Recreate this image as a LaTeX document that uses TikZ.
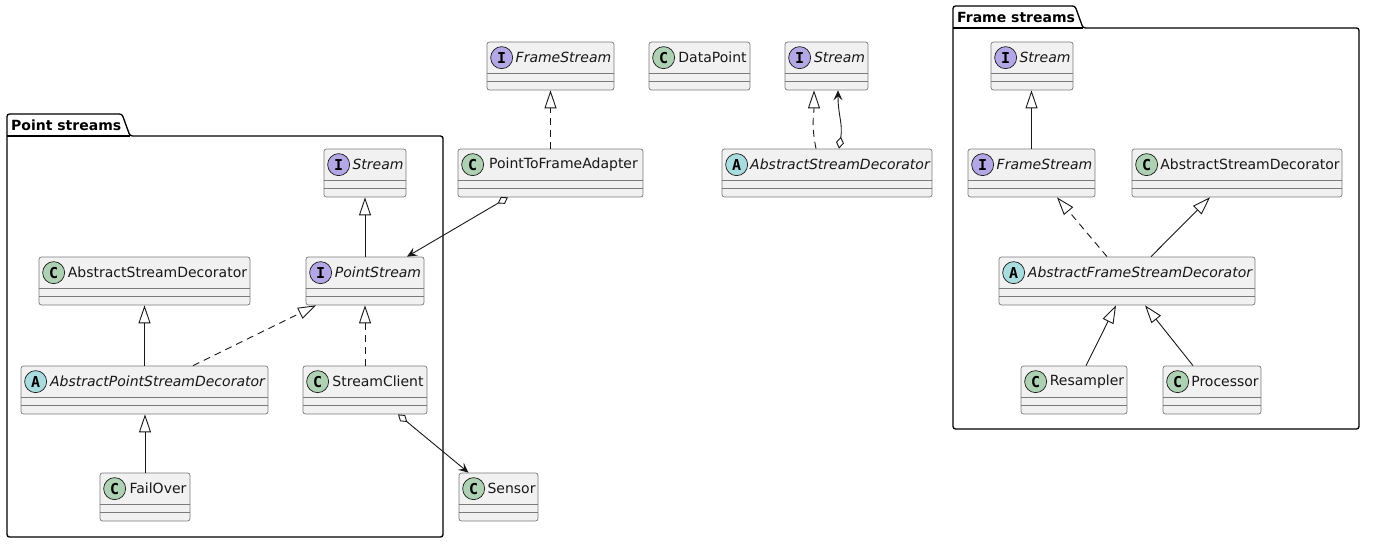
\documentclass[tikz,border=0pt]{standalone}
\usepackage{fontspec}
\setmainfont{DejaVu Sans}
\newfontfamily\spotfont{DejaVu Sans Mono}
\usetikzlibrary{arrows.meta,calc}
\definecolor{boxfill}{HTML}{F1F1F1}
\definecolor{linec}{HTML}{181818}
\definecolor{boxline}{HTML}{7A7A7A}
\definecolor{spotC}{HTML}{ADD1B2}
\definecolor{spotI}{HTML}{B4A7E5}
\definecolor{spotA}{HTML}{A9DCDF}
\tikzset{
  clsbox/.style={draw=boxline, line width=0.7pt, fill=boxfill, rounded corners=2.5pt, inner sep=0pt, minimum height=48pt},
  sepline/.style={draw=boxline, line width=0.7pt},
  spot/.style={circle, draw=linec, line width=0.7pt, minimum size=22pt, inner sep=0pt, font=\spotfont\bfseries\fontsize{15}{15}\selectfont},
  cname/.style={inner sep=0pt, font=\fontsize{14}{16}\selectfont, text=linec},
  pkg/.style={draw=black, line width=1.3pt, rounded corners=2.5pt},
  pkglabel/.style={anchor=west, inner sep=0pt, font=\bfseries\fontsize{14}{16}\selectfont},
  edge/.style={draw=linec, line width=0.9pt},
  dsh/.style={edge, dash pattern=on 7pt off 5pt},
  ext/.style={-{Triangle[open, length=18pt, width=12pt, fill=white]}},
  hasa/.style={{Diamond[open, length=12pt, width=8pt, fill=white]}-{Stealth[length=10pt, width=9pt, inset=4pt]}},
}
% #1 id, #2 letter, #3 spot colour, #4 font switch, #5 name, #6 left, #7 top, #8 width
\newcommand\umlcls[8]{%
  \node[clsbox, minimum width=#8pt] (#1) at (#6+#8/2, #7+24) {};
  \draw[sepline] ([yshift=-32pt]#1.north west) -- ([yshift=-32pt]#1.north east);
  \draw[sepline] ([yshift=-40pt]#1.north west) -- ([yshift=-40pt]#1.north east);
  \node[spot, fill=#3] (#1-s) at ([xshift=15pt, yshift=-16pt]#1.north west) {#2};
  \coordinate (#1-a) at ([xshift=29pt, yshift=-16pt]#1.north west);
  \coordinate (#1-b) at ([xshift=-3pt, yshift=-16pt]#1.north east);
  \node[cname] (#1-n) at ($(#1-a)!0.5!(#1-b)$) {#4#5};
}
\begin{document}
\begin{tikzpicture}[x=1pt, y=-1pt]
\useasboundingbox (0,0) rectangle (1373,551);

% packages
\draw[pkg] (7,114) -- (122,114) -- (130,136) -- (443,136) -- (443,537) -- (7,537) -- cycle;
\draw[pkg] (7,136) -- (130,136);
\node[pkglabel] (pkgpoint) at (11,125) {Point streams};

\draw[pkg] (953,6) -- (1075,6) -- (1083,28) -- (1359,28) -- (1359,429) -- (953,429) -- cycle;
\draw[pkg] (953,28) -- (1083,28);
\node[pkglabel] (pkgframe) at (957,17) {Frame streams};

% Point streams
\umlcls{psStream}{I}{spotI}{\itshape}{Stream}{324}{149}{82}
\umlcls{psPoint}{I}{spotI}{\itshape}{PointStream}{306}{257}{118}
\umlcls{psASD}{C}{spotC}{}{AbstractStreamDecorator}{39}{257}{211}
\umlcls{psAPSD}{A}{spotA}{\itshape}{AbstractPointStreamDecorator}{21}{366}{247}
\umlcls{psClient}{C}{spotC}{}{StreamClient}{303}{366}{124}
\umlcls{psFail}{C}{spotC}{}{FailOver}{100}{473}{90}
\umlcls{sensor}{C}{spotC}{}{Sensor}{459}{473}{79}

% top row
\umlcls{tFrame}{I}{spotI}{\itshape}{FrameStream}{487}{42}{127}
\umlcls{tData}{C}{spotC}{}{DataPoint}{649}{42}{101}
\umlcls{tStream}{I}{spotI}{\itshape}{Stream}{785}{42}{83}
\umlcls{tAdapter}{C}{spotC}{}{PointToFrameAdapter}{458}{149}{185}
\umlcls{tASD}{A}{spotA}{\itshape}{AbstractStreamDecorator}{722}{149}{210}

% Frame streams
\umlcls{fsStream}{I}{spotI}{\itshape}{Stream}{991}{42}{82}
\umlcls{fsFrame}{I}{spotI}{\itshape}{FrameStream}{968}{149}{127}
\umlcls{fsASD}{C}{spotC}{}{AbstractStreamDecorator}{1132}{149}{210}
\umlcls{fsAFSD}{A}{spotA}{\itshape}{AbstractFrameStreamDecorator}{999}{257}{256}
\umlcls{fsRes}{C}{spotC}{}{Resampler}{1021}{366}{106}
\umlcls{fsProc}{C}{spotC}{}{Processor}{1163}{366}{98}

% connectors: point streams
\draw[edge, ext] (psPoint.north) -- (psStream.south);
\draw[edge, ext] (psAPSD.north) -- (psASD.south);
\draw[dsh, ext] ([xshift=48.5pt]psAPSD.north) -- ([xshift=-49pt]psPoint.south);
\draw[dsh, ext] (psClient.north) -- (psPoint.south);
\draw[edge, ext] (psFail.north) -- (psFail.north |- psAPSD.south);
\draw[edge, hasa] ([xshift=33pt]psClient.south) -- ([xshift=-30pt]sensor.north);

% connectors: top
\draw[edge, hasa] ([xshift=-42.5pt]tAdapter.south) -- ([xshift=42pt]psPoint.north);
\draw[dsh, ext] (tAdapter.north) -- (tAdapter.north |- tFrame.south);
\draw[dsh, ext] ([xshift=-11pt]tASD.north) .. controls +(-5,-25) and +(0,25) .. ([xshift=-12.5pt]tStream.south);
\draw[edge, hasa] ([xshift=12pt]tASD.north) .. controls +(4,-25) and +(0,25) .. ([xshift=11.5pt]tStream.south);

% connectors: frame streams
\draw[edge, ext] (fsFrame.north) -- (fsFrame.north |- fsStream.south);
\draw[dsh, ext] ([xshift=-20pt]fsAFSD.north) -- ([xshift=25.5pt]fsFrame.south);
\draw[edge, ext] ([xshift=24pt]fsAFSD.north) -- ([xshift=-27pt]fsASD.south);
\draw[edge, ext] ([xshift=12pt]fsRes.north) -- ([xshift=-11pt]fsAFSD.south);
\draw[edge, ext] ([xshift=-19pt]fsProc.north) -- ([xshift=18pt]fsAFSD.south);
\end{tikzpicture}
\end{document}
